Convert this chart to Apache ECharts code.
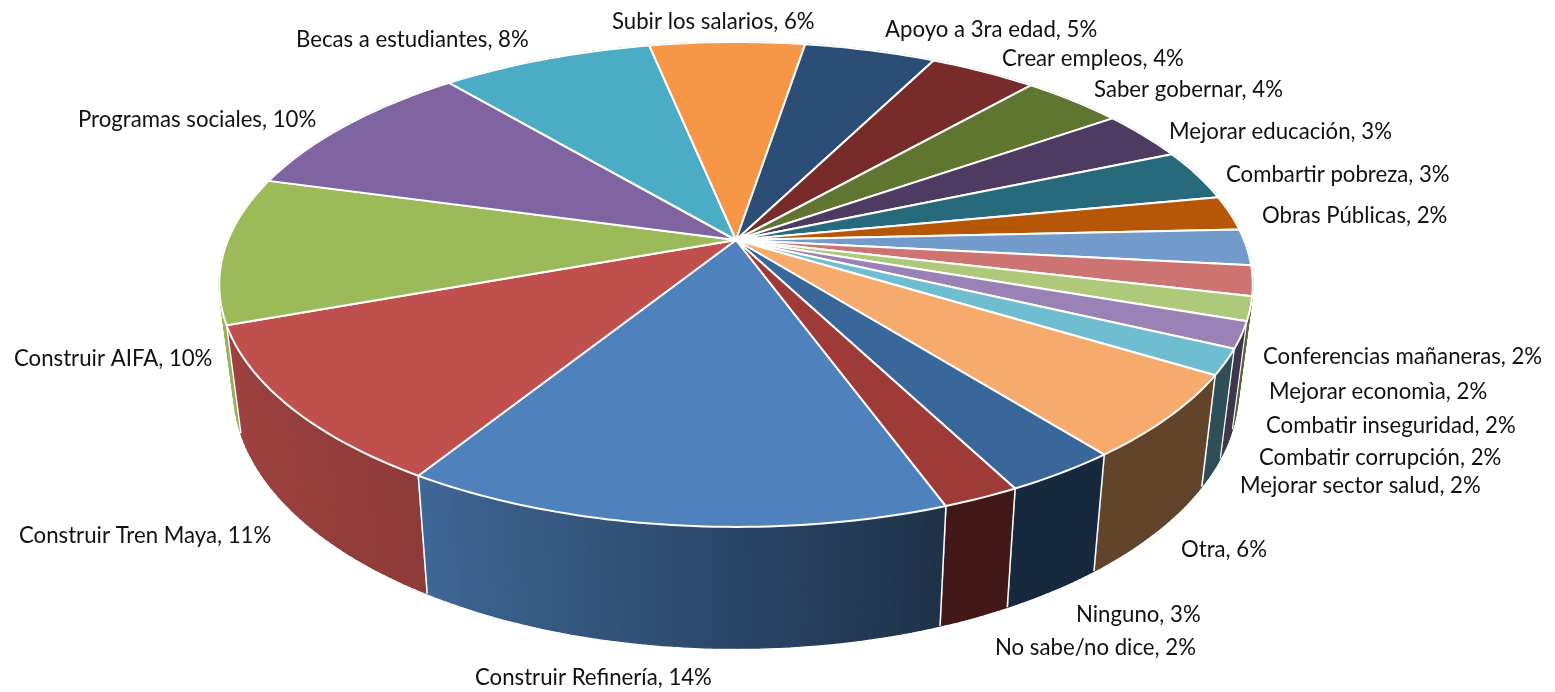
<!DOCTYPE html>
<html>
<head>
<meta charset="utf-8">
<style>html,body{margin:0;padding:0;background:#fff}#c{width:1555px;height:692px}</style>
<script src="https://cdn.jsdelivr.net/npm/echarts@6/dist/echarts.min.js"></script>
</head>
<body>
<div id="c"></div>
<script>
// Data, in drawing order (clockwise from Construir Refinería)
const categories = ['Construir Refinería','Construir Tren Maya','Construir AIFA','Programas sociales','Becas a estudiantes','Subir los salarios','Apoyo a 3ra edad','Crear empleos','Saber gobernar','Mejorar educación','Combartir pobreza','Obras Públicas','Conferencias mañaneras','Mejorar economìa','Combatir inseguridad','Combatir corrupción','Mejorar sector salud','Otra','Ninguno','No sabe/no dice'];
const values = [14.4,10.6,9.8,9.6,7.9,5.8,4.9,4.0,3.8,3.3,3.4,2.3,2.4,2.0,1.6,1.75,1.7,5.6,3.05,2.05];
const percentLabels = [14,11,10,10,8,6,5,4,4,3,3,2,2,2,2,2,2,6,3,2];

// Styles
const topColors = ['#4f81bd','#c0504d','#9bbb59','#8064a2','#4bacc6','#f79646','#2c4d75','#772c2a','#5f7530','#4d3b62','#276a7c','#b65708','#729aca','#cd7371','#afc97a','#9a82b6','#6fbdd1','#f6ab6c','#3a679a','#9e3a38'];
const wallShadeLeft  = [.80,.83,1,.8,.8,.8,.8,.8,.8,.8,.8,.8,.6,.5,.5,.42,.42,.40,.40,.42];
const wallShadeRight = [.38,.74,.95,.8,.8,.8,.8,.8,.8,.8,.8,.8,.6,.5,.5,.42,.42,.40,.40,.42];
const wallBorder = [1.5,1.5,0,0,0,0,0,0,0,0,0,0,0,0,0,1.2,1.2,1.5,1.5,1.5];
const labelLeft = [475,19,14,78,296,612,885,1002,1094,1169,1226,1262,1263,1269,1266,1259,1240,1181,1076,995];
const labelMidY = [678,536,359,120,40,22,30,59,90,132,175,216,357,392,426,458,486,550,615,648];

// Projection of the tilted disc
const startDeg = 160, cx = 736, cy = 240, A = 508, B = 234.3, K = 0.1834;
const botScaleX = 0.972, botScaleY = 1.065, botShiftY = 87;
const fontSize = 22.2;

const total = values.reduce((a, b) => a + b, 0);
const cum = [0];
values.forEach((v, i) => cum.push(cum[i] + v));
const ang = i => (startDeg + cum[i] / total * 360) * Math.PI / 180;
function rim(t) {
  const u = Math.sin(t), v = Math.cos(t), d = 1 + K * v;
  return [cx + A * u / d, cy - B * v / d];
}
const base = p => [cx + (p[0] - cx) * botScaleX, botScaleY * p[1] + botShiftY];
function arc(i) {
  const a = ang(i), b = ang(i + 1), n = Math.max(2, Math.ceil((b - a) / (Math.PI / 180)));
  const pts = [];
  for (let k = 0; k <= n; k++) pts.push(rim(a + (b - a) * k / n));
  return pts;
}
function shade(hex, f) {
  const n = parseInt(hex.slice(1), 16);
  const c = [n >> 16 & 255, n >> 8 & 255, n & 255].map(x => Math.round(x * f));
  return 'rgb(' + c.join(',') + ')';
}
function wallItem(params, api) {
  const i = params.dataIndex;
  api.value(0);
  const top = arc(i), bot = top.map(base);
  const mid = (ang(i) + ang(i + 1)) / 2 * 180 / Math.PI % 360;
  const z2 = Math.round(200 - Math.abs(mid - 180));
  const children = [];
  const last = top.length - 1;
  for (let k = 0; k < last; k++) {
    // the angle runs clockwise, so on the front of the disc it runs right to left
    const t = (k + 0.5) / last;
    const col = shade(topColors[i], wallShadeRight[i] + (wallShadeLeft[i] - wallShadeRight[i]) * t);
    children.push({
      type: 'polygon', z2,
      shape: { points: [top[k], top[k + 1], bot[k + 1], bot[k]] },
      style: { fill: col, stroke: col, lineWidth: 1.4, lineJoin: 'round' }
    });
  }
  if (wallBorder[i] > 0) {
    [0, last].forEach(e => children.push({
      type: 'line', z2: z2 + 1,
      shape: { x1: top[e][0], y1: top[e][1], x2: bot[e][0], y2: bot[e][1] },
      style: { stroke: '#fff', lineWidth: wallBorder[i] }
    }));
  }
  return { type: 'group', children };
}
function topItem(params, api) {
  const i = params.dataIndex;
  api.value(0);
  return {
    type: 'polygon',
    shape: { points: [[cx, cy]].concat(arc(i)) },
    style: { fill: topColors[i], stroke: '#fff', lineWidth: 2, lineJoin: 'round' }
  };
}
function labelItem(params, api) {
  const i = params.dataIndex;
  return {
    type: 'text',
    style: {
      x: labelLeft[i], y: labelMidY[i],
      text: categories[i] + ', ' + percentLabels[i] + '%',
      fill: '#111', font: fontSize + 'px Lato, "Open Sans", sans-serif',
      textAlign: 'left', textVerticalAlign: 'middle'
    }
  };
}
const rows = values.map(v => [v]);
const chart = echarts.init(document.getElementById('c'), null, { renderer: 'canvas' });
chart.setOption({
  animation: false,
  backgroundColor: '#fff',
  series: [
    { type: 'custom', coordinateSystem: 'none', z: 1, silent: true, renderItem: wallItem, data: rows },
    { type: 'custom', coordinateSystem: 'none', z: 2, silent: true, renderItem: topItem, data: rows },
    { type: 'custom', coordinateSystem: 'none', z: 3, silent: true, renderItem: labelItem, data: rows }
  ]
});
</script>
</body>
</html>
